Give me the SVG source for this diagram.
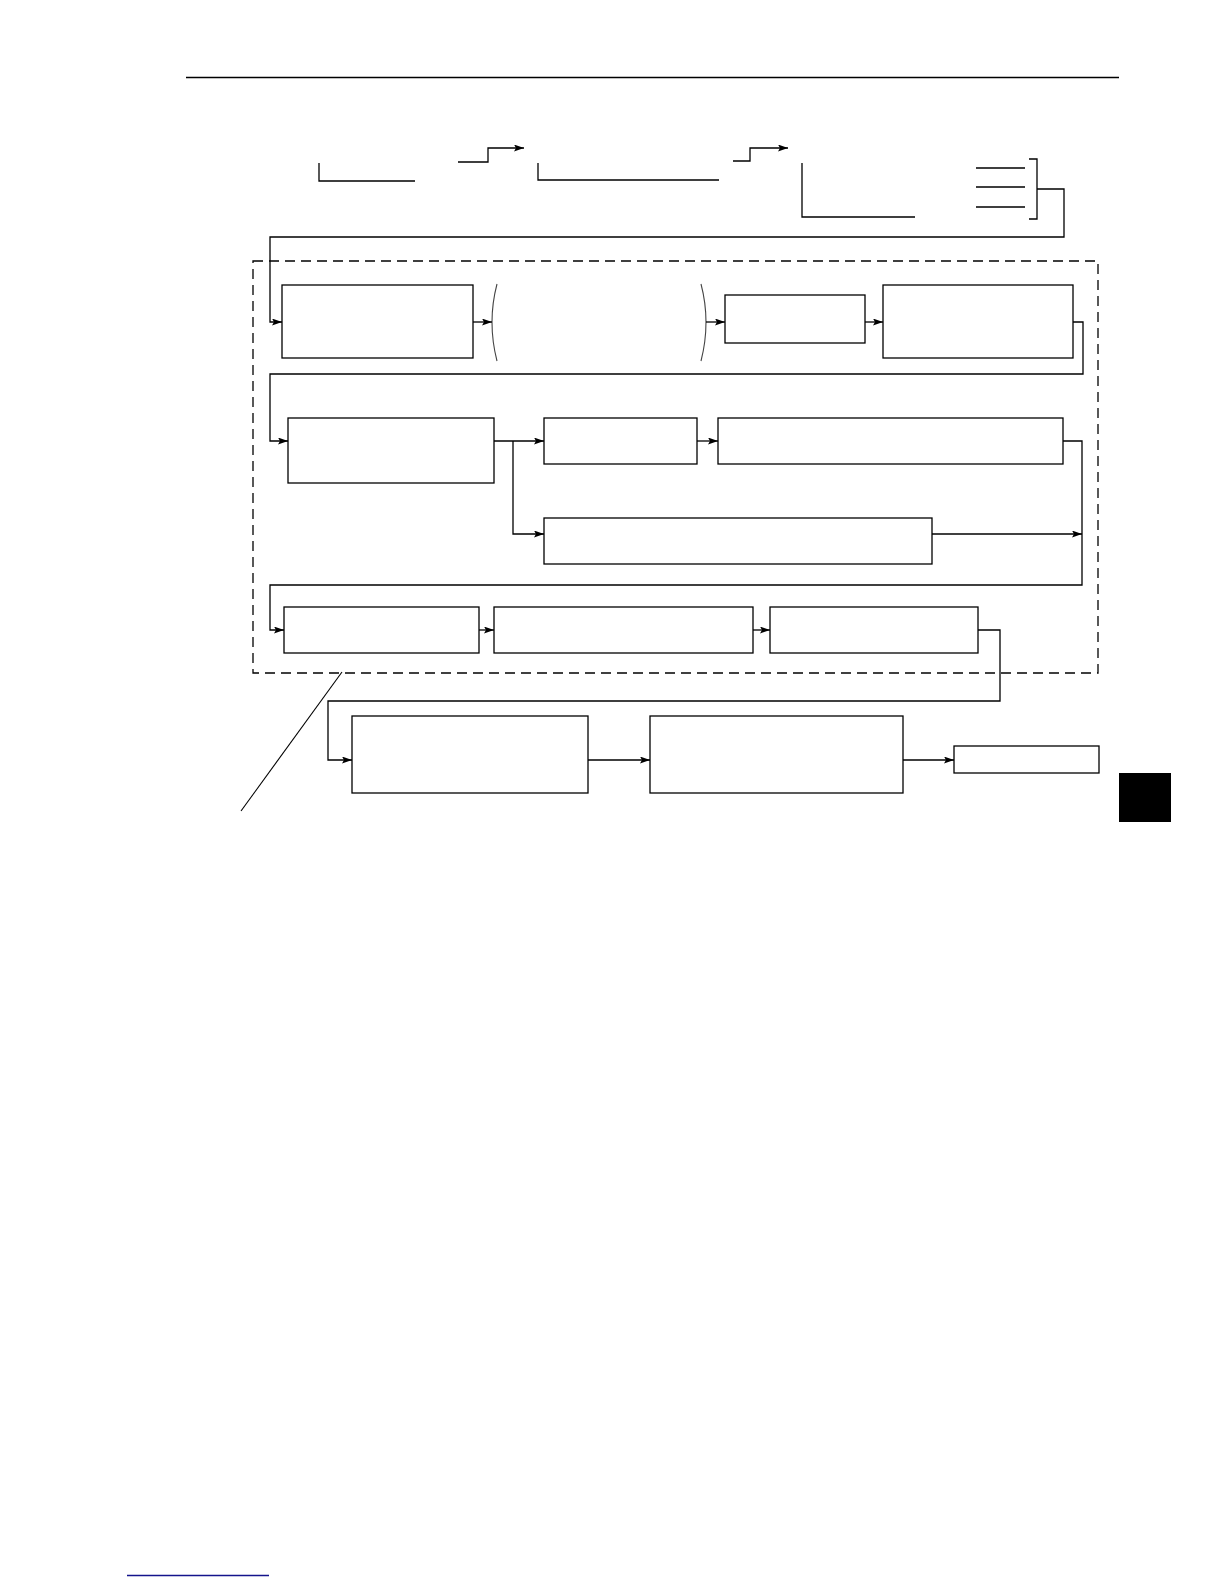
<svg xmlns="http://www.w3.org/2000/svg" width="1224" height="1584" viewBox="0 0 1224 1584">
<style>
.box{fill:#fff;stroke:#000;stroke-width:1.3}
.ln{fill:none;stroke:#000;stroke-width:1.3}
.ar{fill:none;stroke:#000;stroke-width:1.3;marker-end:url(#ah)}
.par{fill:none;stroke:#444;stroke-width:1.1}
.dash{fill:none;stroke:#000;stroke-width:1.3;stroke-dasharray:10 6}
</style>
<defs>
<marker id="ah" viewBox="0 0 10 7" refX="10" refY="3.5" markerWidth="10" markerHeight="7" markerUnits="userSpaceOnUse" orient="auto">
<path d="M0,0 L10,3.5 L0,7 L2,3.5 z" fill="#000"/>
</marker>
</defs>
<rect width="1224" height="1584" fill="#fff"/>
<line x1="186" y1="77.5" x2="1119" y2="77.5" stroke="#000" stroke-width="1.3"/>
<rect id="dashed-region" class="dash" x="253" y="261" width="845" height="412"/>
<g id="top-elements">
<path id="bracket1" class="ln" d="M319,163 V181 H415"/>
<path id="bracket2" class="ln" d="M538,163 V180 H719"/>
<path id="bracket3" class="ln" d="M802,163 V217 H915"/>
<path id="lines3" class="ln" d="M976,168 H1025 M976,187 H1025 M976,207 H1025"/>
<path id="rbracket" class="ln" d="M1029,159 H1037 V219 H1029"/>
</g>
<g id="nodeA"><rect class="box" x="282" y="285" width="191" height="73"/></g>
<g id="paren"><path class="par" d="M497,284 Q487,322 497,361"/><path class="par" d="M701,284 Q711,322 701,361"/></g>
<g id="nodeB"><rect class="box" x="725" y="295" width="140" height="48"/></g>
<g id="nodeC"><rect class="box" x="883" y="285" width="190" height="73"/></g>
<g id="nodeD"><rect class="box" x="288" y="418" width="206" height="65"/></g>
<g id="nodeE"><rect class="box" x="544" y="418" width="153" height="46"/></g>
<g id="nodeF"><rect class="box" x="718" y="418" width="345" height="46"/></g>
<g id="nodeG"><rect class="box" x="544" y="518" width="388" height="46"/></g>
<g id="nodeH"><rect class="box" x="284" y="607" width="195" height="46"/></g>
<g id="nodeI"><rect class="box" x="494" y="607" width="259" height="46"/></g>
<g id="nodeJ"><rect class="box" x="770" y="607" width="208" height="46"/></g>
<g id="nodeK"><rect class="box" x="352" y="716" width="236" height="77"/></g>
<g id="nodeL"><rect class="box" x="650" y="716" width="253" height="77"/></g>
<g id="nodeM"><rect class="box" x="954" y="746" width="145" height="27"/></g>
<g id="connectors">
<path class="ar" d="M458,162 H488 V148 H524"/>
<path class="ar" d="M733,161 H750 V148 H788"/>
<path class="ar" d="M1037,189 H1064 V237 H270 V322 H282"/>
<path class="ar" d="M473,322 H492"/>
<path class="ar" d="M706,322 H725"/>
<path class="ar" d="M865,322 H883"/>
<path class="ar" d="M1073,322 H1083 V374 H270 V441 H288"/>
<path class="ar" d="M494,441 H544"/>
<path class="ar" d="M513,441 V534 H544"/>
<path class="ar" d="M697,441 H718"/>
<path class="ar" d="M1063,441 H1082 V585 H270 V630 H284"/>
<path class="ar" d="M932,534 H1082"/>
<path class="ar" d="M479,630 H494"/>
<path class="ar" d="M753,630 H770"/>
<path class="ar" d="M978,630 H1000 V701 H328 V760 H352"/>
<path class="ar" d="M588,760 H650"/>
<path class="ar" d="M903,760 H954"/>
</g>
<line id="callout" x1="342" y1="672" x2="241" y2="811" stroke="#000" stroke-width="1.1"/>
<rect id="tab" x="1119" y="773" width="52" height="49" fill="#000"/>
<line id="footer-link" x1="127" y1="1575.5" x2="269" y2="1575.5" stroke="#14148c" stroke-width="1.3"/>
</svg>
